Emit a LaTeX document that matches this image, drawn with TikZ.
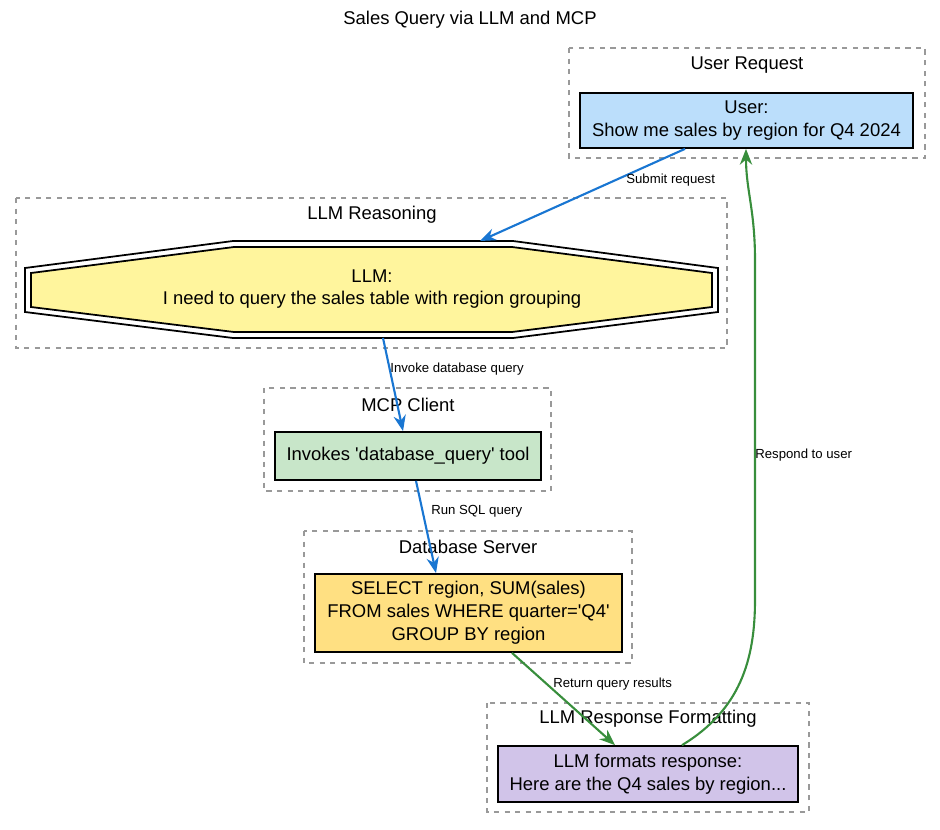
\documentclass[tikz,border=0pt]{standalone}
\usepackage{fontspec}
\setmainfont{Liberation Sans}
\usetikzlibrary{arrows.meta}
\definecolor{userblue}{HTML}{BBDEFB}
\definecolor{llmyellow}{HTML}{FFF59D}
\definecolor{mcpgreen}{HTML}{C8E6C9}
\definecolor{dborange}{HTML}{FFE082}
\definecolor{fmtpurple}{HTML}{D1C4E9}
\definecolor{flowblue}{HTML}{1976D2}
\definecolor{flowgreen}{HTML}{388E3C}
\tikzset{
  cluster/.style={draw=gray!80, dashed, line width=0.8pt},
  clabel/.style={font=\fontsize{10.5}{12}\selectfont},
  stepbox/.style={draw=black, line width=1pt, align=center, inner sep=0pt,
    font=\fontsize{10.5}{13}\selectfont},
  flow/.style={line width=1.2pt, -{Stealth[length=9pt,width=7pt]}},
  elabel/.style={font=\fontsize{7.5}{9}\selectfont, text=black, right, inner sep=0pt}
}
\begin{document}
\begin{tikzpicture}[x=0.02cm,y=-0.02cm]
\useasboundingbox (0,0) rectangle (940,829);

\node[clabel] (title) at (470,20) {Sales Query via LLM and MCP};

% clusters
\draw[cluster] (569,48) rectangle (925,158);
\node[clabel] (l1) at (747,65) {User Request};
\draw[cluster] (16,198) rectangle (727,348);
\node[clabel] (l2) at (372,215) {LLM Reasoning};
\draw[cluster] (264,388) rectangle (551,491);
\node[clabel] (l3) at (408,405) {MCP Client};
\draw[cluster] (304,531) rectangle (632,663);
\node[clabel] (l4) at (468,547) {Database Server};
\draw[cluster] (487,703) rectangle (809,812);
\node[clabel] (l5) at (648,719) {LLM Response Formatting};

% steps
\node[stepbox, fill=userblue, minimum width=6.66cm, minimum height=1.1cm] (user) at (746.5,120.5)
  {User:\\Show me sales by region for Q4 2024};

\draw[line width=1pt, fill=white] (233,241) -- (513,241) -- (718,268) -- (718,312)
  -- (513,338) -- (233,338) -- (25,312) -- (25,268) -- cycle;
\draw[line width=1pt, fill=llmyellow] (234,247) -- (512,247) -- (712,273) -- (712,307)
  -- (512,332) -- (234,332) -- (31,307) -- (31,273) -- cycle;
\node[stepbox, draw=none] (llm) at (372,289)
  {LLM:\\I need to query the sales table with region grouping};
\coordinate (llmtop) at (480,241);
\coordinate (llmbot) at (383,338);

\node[stepbox, fill=mcpgreen, minimum width=5.32cm, minimum height=0.96cm] (mcp) at (408,456)
  {Invokes \textquotesingle database\_query\textquotesingle\ tool};
\node[stepbox, fill=dborange, minimum width=6.14cm, minimum height=1.56cm] (db) at (468.5,613)
  {SELECT region, SUM(sales)\\FROM sales WHERE quarter=\textquotesingle Q4\textquotesingle\\GROUP BY region};
\node[stepbox, fill=fmtpurple, minimum width=6cm, minimum height=1.12cm] (fmt) at (648,774)
  {LLM formats response:\\Here are the Q4 sales by region...};

% flows
\draw[flow, flowblue] (user.south -| 685,0) -- (llmtop);
\node[elabel] (e1) at (626,180) {Submit request};
\draw[flow, flowblue] (llmbot) -- (mcp.north -| 403,0);
\node[elabel] (e2) at (390,369) {Invoke database query};
\draw[flow, flowblue] (mcp.south -| 416,0) -- (db.north -| 436,0);
\node[elabel] (e3) at (431,511) {Run SQL query};
\draw[flow, flowgreen] (db.south -| 512,0) -- (fmt.north -| 615,0);
\node[elabel] (e4) at (553,684) {Return query results};
\draw[flow, flowgreen] (fmt.north -| 682,0) .. controls (740,710) and (755,660) .. (755,600)
  -- (755,260) .. controls (755,210) and (746,190) .. (user.south -| 746,0);
\node[elabel] (resp) at (755,455) {Respond to user};
\end{tikzpicture}
\end{document}
